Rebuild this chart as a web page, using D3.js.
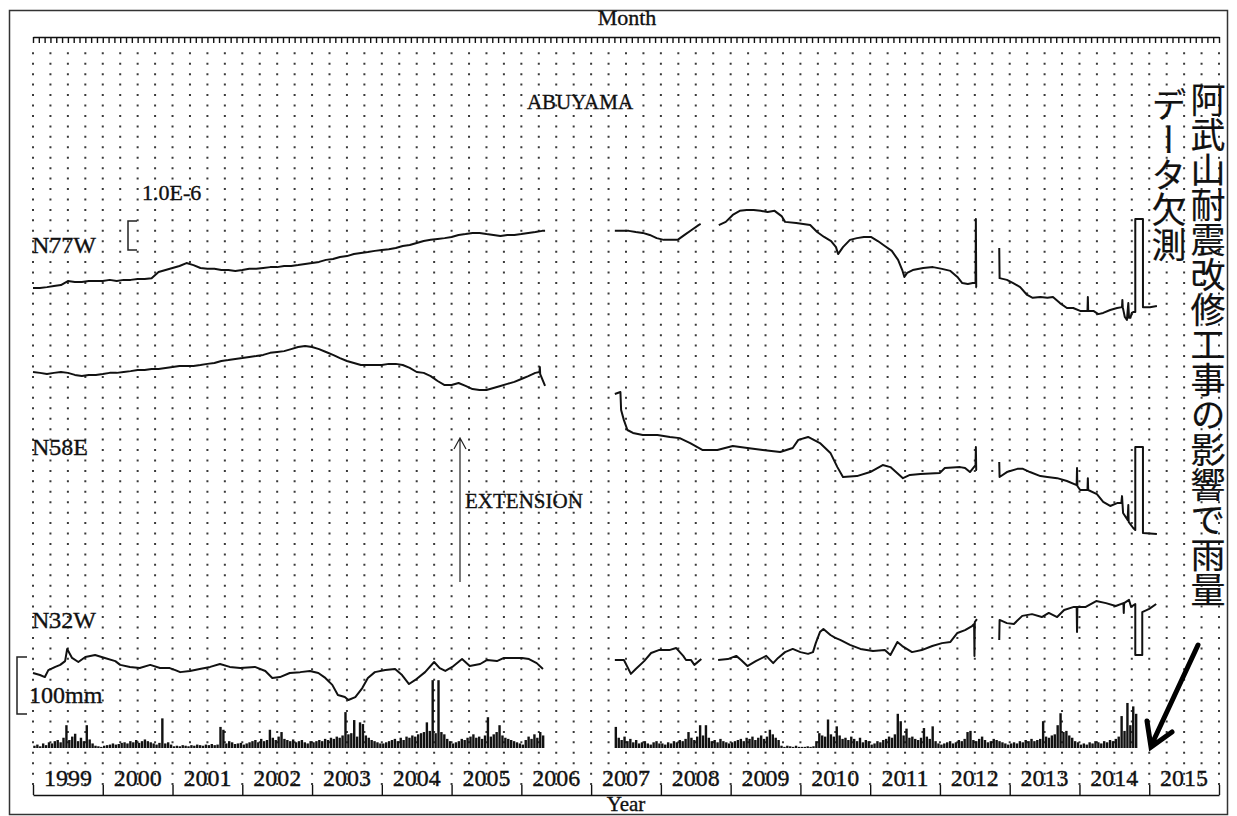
<!DOCTYPE html>
<html>
<head>
<meta charset="utf-8">
<script src="https://cdn.jsdelivr.net/npm/d3@7"></script>
<style>
  body { margin: 0; background: #fff; }
  text { font-family: "Liberation Serif", "Times New Roman", serif; fill: #111; stroke: #111; stroke-width: 0.35px; }
  .jp { font-family: "Noto Sans CJK JP", sans-serif; stroke-width: 0.2px; }
</style>
</head>
<body>
<div id="chart"></div>
<script>
// strain data: [decimal year, strain in 1.0E-6], one array per unbroken segment
var n77wSegments = [
  [[1999.0, 0], [1999.1, 0], [1999.2, 0.03], [1999.3, 0.07], [1999.4, 0.10], [1999.5, 0.24], [1999.6, 0.21],
   [1999.7, 0.21], [1999.8, 0.24], [1999.9, 0.24], [2000.0, 0.24], [2000.1, 0.28], [2000.2, 0.24], [2000.3, 0.28],
   [2000.4, 0.28], [2000.5, 0.31], [2000.6, 0.31], [2000.7, 0.34], [2000.8, 0.55], [2000.9, 0.62], [2001.0, 0.69],
   [2001.1, 0.76], [2001.2, 0.86], [2001.3, 0.79], [2001.4, 0.69], [2001.5, 0.66], [2001.6, 0.66], [2001.7, 0.62],
   [2001.8, 0.62], [2001.9, 0.59], [2002.0, 0.62], [2002.1, 0.66], [2002.2, 0.66], [2002.3, 0.69], [2002.4, 0.72],
   [2002.5, 0.72], [2002.6, 0.76], [2002.7, 0.76], [2002.8, 0.79], [2002.9, 0.83], [2003.0, 0.86], [2003.1, 0.90],
   [2003.2, 0.97], [2003.3, 1.00], [2003.4, 1.07], [2003.5, 1.10], [2003.6, 1.17], [2003.7, 1.21], [2003.8, 1.24],
   [2003.9, 1.28], [2004.0, 1.31], [2004.1, 1.34], [2004.2, 1.38], [2004.3, 1.45], [2004.4, 1.48], [2004.5, 1.55],
   [2004.6, 1.62], [2004.7, 1.66], [2004.8, 1.69], [2004.9, 1.72], [2005.0, 1.76], [2005.1, 1.83], [2005.2, 1.86],
   [2005.3, 1.90], [2005.4, 1.90], [2005.5, 1.86], [2005.6, 1.83], [2005.7, 1.79], [2005.8, 1.83], [2005.9, 1.83],
   [2006.0, 1.86], [2006.1, 1.90], [2006.2, 1.93], [2006.3, 1.97], [2006.34, 1.97]],
  [[2007.34, 1.97], [2007.44, 1.97], [2007.54, 1.97], [2007.64, 1.93], [2007.74, 1.90], [2007.84, 1.83],
   [2007.94, 1.72], [2008.04, 1.66], [2008.14, 1.66], [2008.24, 1.66], [2008.34, 1.83], [2008.44, 2.00],
   [2008.54, 2.17], [2008.57, 2.21]],
  [[2008.83, 2.17], [2008.93, 2.28], [2009.03, 2.52], [2009.13, 2.66], [2009.23, 2.69], [2009.33, 2.69],
   [2009.43, 2.66], [2009.53, 2.62], [2009.63, 2.66], [2009.73, 2.48], [2009.78, 2.28], [2009.94, 2.24],
   [2010.04, 2.21], [2010.14, 2.17], [2010.24, 1.93], [2010.34, 1.76], [2010.44, 1.62], [2010.51, 1.41],
   [2010.54, 1.17], [2010.61, 1.41], [2010.71, 1.66], [2010.81, 1.72], [2010.91, 1.76], [2011.01, 1.76],
   [2011.11, 1.62], [2011.21, 1.45], [2011.31, 1.28], [2011.40, 0.97], [2011.46, 0.62], [2011.49, 0.38],
   [2011.53, 0.52], [2011.61, 0.62], [2011.76, 0.69], [2011.90, 0.72], [2012.03, 0.66], [2012.15, 0.59],
   [2012.25, 0.38], [2012.32, 0.17], [2012.40, 0.14], [2012.47, 0.17], [2012.51, 0.17], [2012.515, 2.38],
   [2012.52, 0.03], [2012.53, 0.03]],
  [[2012.85, 1.38], [2012.855, 0.34], [2012.96, 0.28], [2013.05, 0.17], [2013.15, 0.03], [2013.25, -0.24],
   [2013.33, -0.34], [2013.44, -0.31], [2013.54, -0.34], [2013.62, -0.31], [2013.72, -0.52], [2013.82, -0.69],
   [2013.91, -0.69], [2014.01, -0.79], [2014.115, -0.79], [2014.12, -0.31], [2014.125, -0.79], [2014.20, -0.79],
   [2014.27, -0.90], [2014.34, -0.86], [2014.44, -0.76], [2014.54, -0.69], [2014.61, -0.66], [2014.615, -0.41],
   [2014.62, -0.66], [2014.65, -1.00], [2014.68, -1.10], [2014.70, -0.52], [2014.71, -1.03], [2014.73, -1.03],
   [2014.75, -0.86], [2014.77, -0.83], [2014.80, -0.83], [2014.80, 2.38], [2014.91, 2.38], [2014.91, -0.66],
   [2015.01, -0.66], [2015.11, -0.62]]
]

var n58eSegments = [
  [[1999.0, 0], [1999.1, -0.03], [1999.2, -0.07], [1999.3, -0.03], [1999.4, 0], [1999.5, -0.03], [1999.6, -0.10],
   [1999.7, -0.14], [1999.8, -0.10], [1999.9, -0.10], [2000.0, -0.07], [2000.1, -0.03], [2000.2, -0.03],
   [2000.3, 0], [2000.4, 0.03], [2000.5, 0.07], [2000.6, 0.07], [2000.7, 0.10], [2000.8, 0.10], [2000.9, 0.14],
   [2001.0, 0.17], [2001.1, 0.21], [2001.2, 0.21], [2001.3, 0.21], [2001.4, 0.24], [2001.5, 0.28], [2001.6, 0.31],
   [2001.7, 0.38], [2001.8, 0.41], [2001.9, 0.45], [2002.0, 0.48], [2002.1, 0.52], [2002.2, 0.55], [2002.3, 0.59],
   [2002.4, 0.66], [2002.5, 0.69], [2002.6, 0.72], [2002.7, 0.79], [2002.8, 0.86], [2002.9, 0.90], [2003.0, 0.86],
   [2003.1, 0.79], [2003.2, 0.69], [2003.3, 0.59], [2003.4, 0.48], [2003.5, 0.38], [2003.6, 0.31], [2003.7, 0.24],
   [2003.8, 0.24], [2003.9, 0.24], [2004.0, 0.24], [2004.1, 0.28], [2004.2, 0.28], [2004.3, 0.24], [2004.4, 0.14],
   [2004.5, 0], [2004.6, -0.03], [2004.7, -0.14], [2004.8, -0.31], [2004.9, -0.45], [2005.0, -0.45],
   [2005.1, -0.38], [2005.2, -0.48], [2005.3, -0.59], [2005.4, -0.62], [2005.5, -0.62], [2005.6, -0.55],
   [2005.7, -0.48], [2005.8, -0.41], [2005.9, -0.34], [2006.0, -0.24], [2006.1, -0.14], [2006.2, -0.03],
   [2006.26, 0], [2006.265, 0.17], [2006.27, -0.07], [2006.34, -0.48]],
  [[2007.34, -0.76], [2007.42, -0.69], [2007.43, -1.31], [2007.47, -1.66], [2007.52, -2.00], [2007.60, -2.10],
   [2007.74, -2.17], [2007.95, -2.17], [2008.13, -2.24], [2008.27, -2.28], [2008.42, -2.45], [2008.60, -2.69],
   [2008.81, -2.69], [2009.03, -2.55], [2009.24, -2.62], [2009.46, -2.69], [2009.71, -2.76], [2009.89, -2.62],
   [2009.97, -2.34], [2010.11, -2.24], [2010.28, -2.45], [2010.43, -2.79], [2010.53, -3.28], [2010.61, -3.62],
   [2010.81, -3.59], [2011.00, -3.45], [2011.18, -3.21], [2011.29, -3.28], [2011.47, -3.66], [2011.57, -3.55],
   [2011.72, -3.52], [2012.00, -3.48], [2012.07, -3.31], [2012.29, -3.28], [2012.36, -3.31], [2012.43, -3.45],
   [2012.51, -3.21], [2012.515, -2.59], [2012.52, -3.38], [2012.53, -3.38]],
  [[2012.85, -3.10], [2012.855, -3.62], [2012.96, -3.45], [2013.11, -3.34], [2013.19, -3.34], [2013.29, -3.45],
   [2013.44, -3.59], [2013.54, -3.62], [2013.68, -3.66], [2013.82, -3.76], [2013.96, -3.90], [2013.965, -3.31],
   [2013.97, -3.93], [2014.01, -4.07], [2014.115, -4.07], [2014.12, -3.66], [2014.125, -4.07], [2014.25, -4.21],
   [2014.34, -4.48], [2014.44, -4.62], [2014.54, -4.52], [2014.60, -4.52], [2014.61, -4.28], [2014.625, -4.86],
   [2014.69, -5.10], [2014.70, -4.59], [2014.705, -5.17], [2014.77, -5.38], [2014.80, -5.45], [2014.80, -2.59],
   [2014.91, -2.59], [2014.91, -5.55], [2015.11, -5.59]]
]

var n32wSegments = [
  [[1999.00, 0], [1999.10, -0.07], [1999.17, -0.14], [1999.22, 0.10], [1999.32, 0.21], [1999.39, 0.28],
   [1999.46, 0.41], [1999.49, 0.83], [1999.56, 0.52], [1999.65, 0.38], [1999.75, 0.55], [1999.89, 0.62],
   [2000.03, 0.52], [2000.18, 0.41], [2000.25, 0.28], [2000.39, 0.21], [2000.53, 0.17], [2000.68, 0.28],
   [2000.82, 0.17], [2000.96, 0.17], [2001.04, 0.10], [2001.11, 0.03], [2001.25, 0.07], [2001.39, 0.14],
   [2001.54, 0.21], [2001.68, 0.31], [2001.82, 0.21], [2001.97, 0.17], [2002.18, 0.21], [2002.33, 0.07],
   [2002.43, -0.17], [2002.54, -0.14], [2002.68, 0], [2002.83, 0.03], [2002.97, 0.07], [2003.09, 0],
   [2003.19, -0.17], [2003.29, -0.41], [2003.37, -0.76], [2003.47, -0.83], [2003.52, -0.93], [2003.62, -0.83],
   [2003.72, -0.52], [2003.80, -0.17], [2003.90, 0.03], [2004.05, 0.10], [2004.19, 0.14], [2004.29, -0.07],
   [2004.39, -0.38], [2004.48, -0.24], [2004.62, 0.03], [2004.75, 0.38], [2004.83, 0.17], [2004.91, 0.07],
   [2005.01, 0.21], [2005.15, 0.48], [2005.26, 0.24], [2005.41, 0.31], [2005.51, 0.45], [2005.65, 0.41],
   [2005.75, 0.52], [2006.01, 0.52], [2006.11, 0.48], [2006.22, 0.34], [2006.31, 0.14]],
  [[2007.34, 0.45], [2007.47, 0.45], [2007.52, 0.21], [2007.57, -0.03], [2007.64, 0.14], [2007.76, 0.41],
   [2007.86, 0.69], [2007.97, 0.79], [2008.12, 0.79], [2008.22, 0.86], [2008.32, 0.59], [2008.36, 0.45],
   [2008.43, 0.45], [2008.48, 0.28], [2008.58, 0.48]],
  [[2008.82, 0.45], [2008.96, 0.48], [2009.08, 0.59], [2009.15, 0.45], [2009.24, 0.24], [2009.36, 0.41],
   [2009.51, 0.59], [2009.61, 0.34], [2009.68, 0.52], [2009.78, 0.72], [2009.89, 0.83], [2010.00, 0.72],
   [2010.11, 0.66], [2010.18, 0.72], [2010.22, 1.03], [2010.28, 1.41], [2010.33, 1.52], [2010.43, 1.31],
   [2010.50, 1.21], [2010.57, 1.14], [2010.71, 0.97], [2010.86, 0.83], [2011.04, 0.76], [2011.21, 0.79],
   [2011.29, 0.62], [2011.39, 1.07], [2011.46, 0.93], [2011.60, 0.72], [2011.74, 0.79], [2011.89, 0.93],
   [2012.03, 1.03], [2012.15, 1.07], [2012.25, 1.38], [2012.36, 1.48], [2012.46, 1.62], [2012.49, 1.69],
   [2012.495, 0.59], [2012.50, 1.76], [2012.53, 1.86]],
  [[2012.85, 1.14], [2012.855, 1.83], [2012.96, 1.72], [2013.06, 1.69], [2013.18, 1.97], [2013.32, 2.03],
   [2013.46, 1.93], [2013.56, 2.07], [2013.68, 1.93], [2013.78, 2.17], [2013.92, 2.28], [2013.96, 2.28],
   [2013.965, 1.41], [2013.97, 2.28], [2014.09, 2.28], [2014.24, 2.48], [2014.38, 2.41], [2014.52, 2.31],
   [2014.63, 2.41], [2014.635, 2.07], [2014.64, 2.41], [2014.71, 2.52], [2014.74, 2.28], [2014.80, 2.38],
   [2014.80, 0.62], [2014.90, 0.62], [2014.90, 2.10], [2015.00, 2.21], [2015.10, 2.38]]
]

// rainfall, mm per half month, one row per year (null = not measured)
var rainYears = [1999, 2000, 2001, 2002, 2003, 2004, 2005, 2006, 2007, 2008, 2009, 2010, 2011, 2012, 2013, 2014]
var rainHalfMonth = [
  [4, 6, 3, 8, 5, 10, 8, 12, 14, 10, 18, 40, 14, 20, 25, 12, 18, 12, 40, 15, 8, 4, 3, 2],
  [4, 5, 6, 8, 6, 7, 9, 10, 8, 12, 10, 14, 9, 12, 15, 12, 10, 8, 6, 9, 52, 8, 10, 6],
  [3, 4, 3, 5, 4, 3, 5, 4, 6, 5, 4, 6, 5, 7, 5, 6, 37, 32, 8, 12, 10, 7, 8, 9],
  [6, 8, 10, 12, 14, 10, 16, 12, 14, 32, 18, 14, 20, 28, 16, 14, 12, 15, 10, 12, 14, 10, 8, 12],
  [10, 12, 14, 12, 16, 14, 18, 16, 20, 18, 22, 63, 24, 26, 49, 20, 45, 42, 22, 18, 14, 12, 10, 8],
  [8, 10, 12, 14, 16, 12, 18, 14, 20, 18, 22, 20, 24, 26, 28, 45, 30, 119, 26, 119, 28, 24, 16, 12],
  [8, 10, 12, 16, 14, 18, 20, 24, 18, 20, 16, 22, 54, 20, 24, 28, 40, 22, 18, 16, 14, 12, 10, 8],
  [6, 14, 20, 16, 24, 18, 28, 22],
  [null, null, null, null, null, null, null, null, 37, 18, 14, 20, 12, 16, 10, 14, 8, 10, 12, 8, 6, 10, 12, 8],
  [8, 6, 10, 8, 12, 10, 14, 12, 16, 28, 18, 14, 20, 40, 22, 40, 18, 12, 14, 10, 16, 12, 10, 8],
  [10, 12, 14, 16, 12, 18, 16, 20, 14, 18, 22, 16, 20, 32, 24, 18, 14, 4, 2, 4, 3, 2, 4, 2],
  [2, 2, 3, 2, 3, 12, 26, 22, 20, 50, 24, 20, 38, 22, 16, 18, 14, 20, 16, 12, 18, 10, 14, 12],
  [6, 8, 12, 10, 14, 16, 20, 18, 24, 60, 47, 22, 34, 18, 20, 16, 14, 18, 35, 20, 16, 38, 12, 8],
  [6, 8, 10, 12, 8, 10, 14, 12, 16, 28, 30, 14, 12, 16, 20, 14, 10, 12, 16, 14, 12, 10, 8, 6],
  [8, 10, 8, 12, 10, 14, 12, 16, 12, 14, 16, 47, 20, 18, 22, 24, 40, 61, 28, 30, 22, 18, 12, 10],
  [6, 8, 6, 10, 8, 12, 10, 8, 12, 10, 14, 12, 16, 20, 56, 30, 79, 40, 73, 60]
]

var yearLabels = ['1999', '2000', '2001', '2002', '2003', '2004', '2005', '2006', '2007',
  '2008', '2009', '2010', '2011', '2012', '2013', '2014', '2015']
var componentNames = ['N77W', 'N58E', 'N32W']
var noteLines = ['阿武山耐震改修工事の影響で雨量', 'データ欠測']

var width = 1237
var height = 816

var svg = d3.select('#chart')
  .append('svg')
  .attr('width', width)
  .attr('height', height)

// frame
svg.append('rect')
  .attr('x', 9.5).attr('y', 10.5)
  .attr('width', 1218).attr('height', 804)
  .attr('fill', 'none')
  .attr('stroke', '#333')
  .attr('stroke-width', 1.5)

var x = d3.scaleLinear().domain([1999, 2016]).range([33, 1219])

// 1.0E-6 strain = 29px, 100mm rain = 57px
var ppu = 29
function strainScale (base) {
  return d3.scaleLinear().domain([0, 1]).range([base, base - ppu])
}
var yRain = d3.scaleLinear().domain([0, 100]).range([748, 691])

// dotted grid, one column every quarter year
var gridCols = d3.range(1999, 2016.001, 0.25)
svg.append('g')
  .selectAll('line')
  .data(gridCols)
  .enter().append('line')
  .attr('x1', d => x(d)).attr('x2', d => x(d))
  .attr('y1', 52.3).attr('y2', 787)
  .attr('stroke', '#3a3a3a')
  .attr('stroke-width', 2)
  .attr('stroke-dasharray', '2,8.44')

// month ticks along the top
var monthTicks = d3.range(0, 17 * 12 + 1).map(m => 1999 + m / 12)
var monthAxis = svg.append('g')
  .attr('class', 'axis month-axis')
  .attr('transform', 'translate(0,37)')
  .call(d3.axisBottom(x).tickValues(monthTicks).tickSize(6).tickSizeOuter(0).tickFormat(''))
monthAxis.selectAll('path, line').attr('stroke', '#111').attr('stroke-width', 1.4)

svg.append('text')
  .attr('x', 627).attr('y', 25)
  .attr('text-anchor', 'middle')
  .attr('font-size', 22)
  .text('Month')

// year axis along the bottom
var yearAxis = svg.append('g')
  .attr('class', 'axis year-axis')
  .attr('transform', 'translate(0,795)')
  .call(d3.axisTop(x).tickValues(d3.range(1999, 2017)).tickSize(10).tickSizeOuter(0).tickFormat(''))
yearAxis.selectAll('path, line').attr('stroke', '#111').attr('stroke-width', 1.4)

svg.append('g')
  .selectAll('text')
  .data(yearLabels)
  .enter().append('text')
  .attr('x', (d, i) => x(1999 + i + 0.5))
  .attr('y', 786)
  .attr('text-anchor', 'middle')
  .attr('font-size', 24)
  .text(d => d)

svg.append('text')
  .attr('x', 626).attr('y', 811)
  .attr('text-anchor', 'middle')
  .attr('font-size', 21)
  .text('Year')

// strain curves
var bases = [288, 372, 673]
var allSegments = [n77wSegments, n58eSegments, n32wSegments]
allSegments.forEach(function (segs, c) {
  var y = strainScale(bases[c])
  var line = d3.line().x(d => x(d[0])).y(d => y(d[1]))
  svg.append('g')
    .selectAll('path')
    .data(segs)
    .enter().append('path')
    .attr('d', line)
    .attr('fill', 'none')
    .attr('stroke', '#111')
    .attr('stroke-width', 2)
    .attr('stroke-linejoin', 'round')
})

// rainfall bars
var rainBars = []
rainYears.forEach(function (yr, r) {
  rainHalfMonth[r].forEach(function (v, i) {
    if (v !== null) rainBars.push({ t: yr + (i + 0.5) / 24, v: v })
  })
})
svg.append('g')
  .selectAll('rect')
  .data(rainBars)
  .enter().append('rect')
  .attr('x', d => x(d.t) - 1.2)
  .attr('width', 2.4)
  .attr('y', d => yRain(d.v))
  .attr('height', d => yRain(0) - yRain(d.v))
  .attr('fill', '#111')

// component labels
var labelY = [253, 455, 628]
svg.append('g')
  .selectAll('text')
  .data(componentNames)
  .enter().append('text')
  .attr('x', 32)
  .attr('y', (d, i) => labelY[i])
  .attr('font-size', 24)
  .text(d => d)

svg.append('text').attr('x', 580).attr('y', 109).attr('text-anchor', 'middle')
  .attr('font-size', 21).text('ABUYAMA')

// strain scale bar
svg.append('path')
  .attr('d', 'M137,' + strainScale(250)(0) + 'H128V' + strainScale(250)(1) + 'H137')
  .attr('fill', 'none').attr('stroke', '#222').attr('stroke-width', 1.5)
svg.append('text').attr('x', 142).attr('y', 200).attr('font-size', 22).text('1.0E-6')

// rain scale bar
svg.append('path')
  .attr('d', 'M27,' + yRain(0) + 'H17V' + yRain(100) + 'H27')
  .attr('transform', 'translate(0,-34)')
  .attr('fill', 'none').attr('stroke', '#222').attr('stroke-width', 1.5)
svg.append('text').attr('x', 29).attr('y', 703).attr('font-size', 24).text('100mm')

// extension arrow
svg.append('path')
  .attr('d', 'M460,582V438M454,449L460,438L466,449')
  .attr('fill', 'none').attr('stroke', '#222').attr('stroke-width', 1.2)
svg.append('text').attr('x', 465).attr('y', 508).attr('font-size', 21).text('EXTENSION')

// note in vertical Japanese
var noteX = [1208, 1169]
var noteY = [82, 87]
svg.append('g')
  .selectAll('text')
  .data(noteLines)
  .enter().append('text')
  .attr('class', 'jp')
  .attr('x', (d, i) => noteX[i])
  .attr('y', (d, i) => noteY[i])
  .style('writing-mode', 'vertical-rl')
  .attr('font-size', 35)
  .attr('fill', '#000')
  .text(d => d)

// thick arrow to missing rain data
svg.append('path')
  .attr('d', 'M1198,645L1151,746M1147,721L1151,747L1172,732')
  .attr('fill', 'none').attr('stroke', '#000').attr('stroke-width', 5)
  .attr('stroke-linecap', 'round').attr('stroke-linejoin', 'miter')
</script>
</body>
</html>
